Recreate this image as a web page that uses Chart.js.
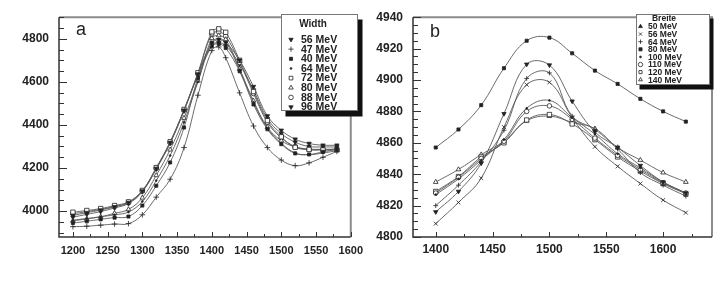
<!DOCTYPE html>
<html lang="en">
<head>
<meta charset="UTF-8">
<title>Width / Breite</title>
<script src="https://cdn.jsdelivr.net/npm/chart.js@4.4.4/dist/chart.umd.min.js"></script>
<style>
  body { margin: 0; background: #fff; }
  #wrap { position: relative; width: 726px; height: 282px; }
  canvas { position: absolute; top: 0; }
  #chartA { left: 0; }
  #chartB { left: 370px; }
</style>
</head>
<body>
<div id="wrap">
  <canvas id="chartA" width="370" height="282"></canvas>
  <canvas id="chartB" width="356" height="282"></canvas>
</div>
<script>
// panel a
const xA = [1200, 1220, 1240, 1260, 1280, 1300, 1320, 1340, 1360, 1380, 1400, 1410, 1420, 1440, 1460, 1480, 1500, 1520, 1540, 1560, 1580];
const ticksAx = [1200, 1250, 1300, 1350, 1400, 1450, 1500, 1550, 1600];
const ticksAy = [4000, 4200, 4400, 4600, 4800];
const labelsA = ['56 MeV', '47 MeV', '40 MeV', '64 MeV', '72 MeV', '80 MeV', '88 MeV', '96 MeV'];
const a56 = [3980, 3993, 4005, 4020, 4040, 4093, 4198, 4318, 4468, 4636, 4780, 4795, 4782, 4700, 4578, 4442, 4375, 4334, 4314, 4306, 4306];
const a47 = [3928, 3930, 3935, 3940, 3942, 3983, 4065, 4148, 4295, 4538, 4745, 4762, 4712, 4549, 4395, 4295, 4237, 4211, 4224, 4250, 4277];
const a40 = [3945, 3953, 3962, 3970, 3975, 4026, 4118, 4226, 4388, 4618, 4765, 4776, 4757, 4649, 4495, 4380, 4311, 4268, 4263, 4275, 4287];
const a64 = [3958, 3966, 3974, 3983, 3996, 4045, 4142, 4258, 4412, 4600, 4785, 4800, 4785, 4655, 4505, 4385, 4315, 4270, 4262, 4270, 4280];
const a72 = [3995, 4003, 4012, 4026, 4043, 4096, 4202, 4322, 4472, 4642, 4832, 4846, 4830, 4700, 4555, 4420, 4345, 4296, 4286, 4284, 4284];
const a80 = [3955, 3964, 3974, 3990, 4008, 4062, 4166, 4285, 4432, 4605, 4802, 4815, 4797, 4660, 4512, 4390, 4327, 4298, 4285, 4285, 4287];
const a88 = [3988, 3998, 4008, 4022, 4040, 4094, 4199, 4319, 4469, 4638, 4822, 4831, 4812, 4690, 4546, 4412, 4340, 4300, 4288, 4287, 4288];
const a96 = [3972, 3985, 3998, 4015, 4035, 4090, 4195, 4315, 4465, 4632, 4770, 4782, 4767, 4682, 4562, 4430, 4360, 4320, 4300, 4298, 4298];

// panel b
const xB = [1400, 1420, 1440, 1460, 1480, 1500, 1520, 1540, 1560, 1580, 1600, 1620];
const ticksBx = [1400, 1450, 1500, 1550, 1600];
const ticksBy = [4800, 4820, 4840, 4860, 4880, 4900, 4920, 4940];
const labelsB = ['50 MeV', '56 MeV', '64 MeV', '80 MeV', '100 MeV', '110 MeV', '120 MeV', '140 MeV'];
const b50 = [4816, 4829, 4847, 4878.5, 4910, 4909.5, 4886.5, 4867, 4857, 4845.5, 4835, 4828];
const b56 = [4808.5, 4822, 4837.5, 4870, 4897, 4898.5, 4876, 4857.5, 4845, 4834, 4823.5, 4815.5];
const b64 = [4820, 4833, 4848, 4868, 4901, 4904.5, 4877, 4868.5, 4856, 4841, 4833, 4826];
const b80 = [4857, 4868.5, 4884, 4907.5, 4925, 4927, 4917, 4906, 4897.5, 4888, 4880, 4873.5];
const b100 = [4827, 4837, 4849, 4862, 4882, 4887, 4876, 4865.5, 4853, 4844, 4835, 4828];
const b110 = [4828, 4838, 4850, 4861, 4880, 4883.5, 4875, 4863, 4852, 4843, 4834.5, 4828];
const b120 = [4829, 4838.5, 4851, 4860, 4874.5, 4878, 4872, 4862, 4851, 4842, 4834, 4827.5];
const b140 = [4835, 4843, 4852.5, 4861, 4874, 4877, 4873, 4869, 4857, 4849, 4841, 4835];

const FONT = '"Liberation Sans", Arial, Helvetica, sans-serif';
const INK = '#222';

// marker: [pointStyle, filled, rotation in plot, radius, rotation in legend]
const marksA = [
  ['triangle', true, 180, 2.5, 180], ['cross', false, 0, 2.8, 0], ['rect', true, 0, 2.2, 0], ['circle', true, 0, 0.9, 0],
  ['rect', false, 0, 3.1, 0], ['triangle', false, 0, 2.7, 0], ['circle', false, 0, 2.3, 0], ['triangle', true, 180, 2.5, 180]
];
const marksB = [
  ['triangle', true, 180, 2.5, 0], ['crossRot', false, 0, 2.8, 0], ['cross', false, 0, 2.4, 0], ['rect', true, 0, 2.2, 0],
  ['circle', true, 0, 0.9, 0], ['circle', false, 0, 2.3, 0], ['rect', false, 0, 3.1, 0], ['triangle', false, 0, 2.7, 0]
];

function makeSets(xs, series, labels, marks) {
  return series.map((ys, i) => ({
    label: labels[i],
    data: xs.map((x, j) => ({ x: x, y: ys[j] })),
    borderColor: '#5a5a5a',
    borderWidth: 0.9,
    tension: 0.4,
    pointStyle: marks[i][0],
    pointRotation: marks[i][2],
    pointRadius: marks[i][3],
    pointBackgroundColor: marks[i][1] ? INK : '#fff',
    pointBorderColor: INK,
    pointBorderWidth: 0.8,
    legendRotation: marks[i][4]
  }));
}

// box, inward ticks, panel letter
const framePlugin = {
  id: 'frame',
  beforeDatasetsDraw(chart, args, o) {
    const { ctx, chartArea: a, scales: { x, y } } = chart;
    ctx.save();
    ctx.strokeStyle = '#8c8c8c';
    ctx.lineWidth = 2;
    ctx.beginPath();
    ctx.moveTo(a.left, a.top);
    ctx.lineTo(a.right, a.top);
    ctx.lineTo(a.right, a.bottom);
    ctx.stroke();

    ctx.strokeStyle = '#333';
    ctx.lineWidth = 1;
    ctx.beginPath();
    for (let v = Math.ceil(x.min / o.xMinor) * o.xMinor; v <= x.max; v += o.xMinor) {
      const px = Math.round(x.getPixelForValue(v)) + 0.5;
      const len = v % o.xMajor === 0 ? 5 : 3;
      ctx.moveTo(px, a.bottom);
      ctx.lineTo(px, a.bottom - len);
    }
    for (let v = Math.ceil(y.min / o.yMinor) * o.yMinor; v <= y.max; v += o.yMinor) {
      const py = Math.round(y.getPixelForValue(v)) + 0.5;
      const len = v % o.yMajor === 0 ? 8 : 5;
      ctx.moveTo(a.left, py);
      ctx.lineTo(a.left + len, py);
    }
    ctx.stroke();

    ctx.lineWidth = 1.5;
    ctx.beginPath();
    ctx.moveTo(a.left, a.top);
    ctx.lineTo(a.left, a.bottom);
    ctx.lineTo(a.right, a.bottom);
    ctx.stroke();

    ctx.fillStyle = INK;
    ctx.font = '18px ' + FONT;
    ctx.textBaseline = 'alphabetic';
    ctx.fillText(o.letter, o.letterX, o.letterY);
    ctx.restore();
  }
};

// legend box with drop shadow
const boxLegend = {
  id: 'boxLegend',
  afterDraw(chart, args, o) {
    const ctx = chart.ctx;
    ctx.save();
    ctx.fillStyle = '#111';
    ctx.fillRect(o.left + o.shadow, o.top + o.shadow + 1, o.width, o.height);
    ctx.fillStyle = '#fff';
    ctx.fillRect(o.left, o.top, o.width, o.height);
    ctx.strokeStyle = '#777';
    ctx.lineWidth = 1;
    ctx.strokeRect(o.left + 0.5, o.top + 0.5, o.width - 1, o.height - 1);

    ctx.fillStyle = INK;
    ctx.textBaseline = 'middle';
    ctx.font = 'bold ' + o.titleSize + 'px ' + FONT;
    ctx.textAlign = 'center';
    ctx.fillText(o.title, o.titleX, o.titleY);

    ctx.textAlign = 'left';
    ctx.font = 'bold ' + o.size + 'px ' + FONT;
    chart.data.datasets.forEach((ds, i) => {
      const yy = o.firstY + i * o.dy;
      ctx.fillStyle = ds.pointBackgroundColor;
      ctx.strokeStyle = INK;
      ctx.lineWidth = 0.8;
      Chart.helpers.drawPoint(ctx, {
        pointStyle: ds.pointStyle,
        rotation: ds.legendRotation,
        radius: Math.min(ds.pointRadius, o.markR),
        borderWidth: 0.8
      }, o.markX, yy);
      ctx.fillStyle = INK;
      ctx.fillText(ds.label, o.textX, yy + 0.5);
    });
    ctx.restore();
  }
};

function axes(xmin, xmax, xticks, ymin, ymax, yticks, xFont, yWidth, xPad) {
  return {
    x: {
      type: 'linear', min: xmin, max: xmax,
      grid: { display: false, drawTicks: false }, border: { display: false },
      afterBuildTicks: s => { s.ticks = xticks.map(v => ({ value: v })); },
      ticks: { padding: xPad, maxRotation: 0, autoSkip: false, color: INK,
               callback: v => String(v),
               font: { family: FONT, size: xFont, weight: 'bold' } },
      afterFit: s => { s.height = 45; }
    },
    y: {
      type: 'linear', min: ymin, max: ymax,
      grid: { display: false, drawTicks: false }, border: { display: false },
      afterBuildTicks: s => { s.ticks = yticks.map(v => ({ value: v })); },
      ticks: { padding: 10, autoSkip: false, color: INK,
               callback: v => String(v),
               font: { family: FONT, size: 12, weight: 'bold' } },
      afterFit: s => { s.width = yWidth; }
    }
  };
}

new Chart(document.getElementById('chartA'), {
  type: 'line',
  data: { datasets: makeSets(xA, [a56, a47, a40, a64, a72, a80, a88, a96], labelsA, marksA) },
  options: {
    responsive: false,
    animation: false,
    layout: { padding: { top: 15, right: 13, left: 0, bottom: 0 } },
    scales: axes(1180, 1600, ticksAx, 3880, 4900, ticksAy, 11, 59, 7),
    plugins: {
      legend: { display: false },
      tooltip: { enabled: false },
      frame: { xMinor: 25, xMajor: 50, yMinor: 50, yMajor: 200, letter: 'a', letterX: 76, letterY: 35 },
      boxLegend: {
        left: 281, top: 14, width: 77, height: 97, shadow: 4.5,
        title: 'Width', titleX: 313, titleY: 24, titleSize: 10,
        firstY: 39.5, dy: 9.65, markX: 291, textX: 301, size: 10.5, markR: 2.6
      }
    }
  },
  plugins: [framePlugin, boxLegend]
});

new Chart(document.getElementById('chartB'), {
  type: 'line',
  data: { datasets: makeSets(xB, [b50, b56, b64, b80, b100, b110, b120, b140], labelsB, marksB) },
  options: {
    responsive: false,
    animation: false,
    layout: { padding: { top: 15, right: 14, left: 0, bottom: 0 } },
    scales: axes(1380, 1643, ticksBx, 4800, 4940, ticksBy, 12, 43, 5),
    plugins: {
      legend: { display: false },
      tooltip: { enabled: false },
      frame: { xMinor: 25, xMajor: 50, yMinor: 5, yMajor: 20, letter: 'b', letterX: 60, letterY: 37 },
      boxLegend: {
        left: 266, top: 14, width: 74, height: 71, shadow: 3.5,
        title: 'Breite', titleX: 294, titleY: 19, titleSize: 8.5,
        firstY: 26.5, dy: 7.6, markX: 270.5, textX: 278, size: 8.5, markR: 2.2
      }
    }
  },
  plugins: [framePlugin, boxLegend]
});
</script>
</body>
</html>
